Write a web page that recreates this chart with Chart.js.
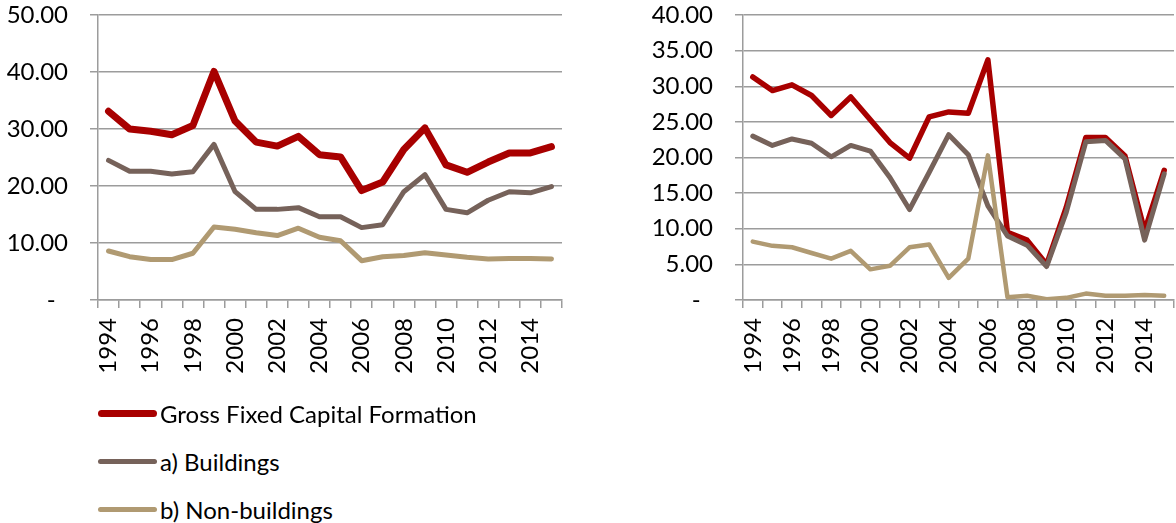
<!DOCTYPE html>
<html>
<head>
<meta charset="utf-8">
<script src="https://cdn.jsdelivr.net/npm/chart.js@4.4.1/dist/chart.umd.min.js"></script>
<style>
  body { margin: 0; background: #fff; }
  #wrap { position: relative; width: 1176px; height: 523px; overflow: hidden; font-family: Lato, sans-serif; }
  canvas { position: absolute; top: 0; }
  .legrow { position: absolute; left: 98px; height: 30px; display: flex; align-items: center; font-size: 24px; color: #000; }
  .legrow span.sw { display: inline-block; width: 59px; border-radius: 4px; margin-right: 3px; }
</style>
</head>
<body>
<div id="wrap">
  <canvas id="leftChart" width="580" height="400" style="left:0"></canvas>
  <canvas id="rightChart" width="580" height="400" style="left:596px"></canvas>
  <div id="legend"></div>
</div>
<script>
'use strict';

let years = ['1994', '1995', '1996', '1997', '1998', '1999', '2000', '2001', '2002', '2003', '2004',
    '2005', '2006', '2007', '2008', '2009', '2010', '2011', '2012', '2013', '2014', '2015'];

let seriesNames = ['Gross Fixed Capital Formation', 'a) Buildings', 'b) Non-buildings'];

// left panel
let leftGfcf = [33.1, 30.0, 29.6, 29.0, 30.6, 40.1, 31.4, 27.7, 27.0, 28.7, 25.5,
    25.1, 19.2, 20.7, 26.4, 30.2, 23.7, 22.4, 24.2, 25.8, 25.8, 26.9];
let leftBuildings = [24.5, 22.6, 22.6, 22.1, 22.5, 27.3, 19.0, 15.9, 15.9, 16.2, 14.6,
    14.6, 12.7, 13.2, 19.0, 22.0, 15.9, 15.3, 17.5, 19.0, 18.8, 19.9];
let leftNonBuildings = [8.6, 7.6, 7.1, 7.1, 8.2, 12.8, 12.4, 11.8, 11.3, 12.6, 11.0,
    10.4, 6.9, 7.6, 7.8, 8.3, 7.9, 7.5, 7.2, 7.3, 7.3, 7.2];
let leftTicks = [0, 10, 20, 30, 40, 50];

// right panel
let rightGfcf = [31.3, 29.4, 30.2, 28.7, 25.9, 28.5, 25.3, 22.1, 19.9, 25.7, 26.4,
    26.2, 33.7, 9.5, 8.4, 5.0, 13.0, 22.8, 22.8, 20.2, 9.7, 18.2];
let rightBuildings = [23.0, 21.7, 22.6, 22.0, 20.1, 21.7, 20.9, 17.2, 12.7, 17.9, 23.2,
    20.4, 13.2, 9.0, 7.7, 4.7, 12.3, 22.2, 22.4, 19.8, 8.4, 17.7];
let rightNonBuildings = [8.2, 7.6, 7.4, 6.6, 5.8, 6.9, 4.3, 4.8, 7.4, 7.8, 3.1,
    5.8, 20.3, 0.4, 0.6, 0.1, 0.3, 0.9, 0.6, 0.6, 0.7, 0.6];
let rightTicks = [0, 5, 10, 15, 20, 25, 30, 35, 40];

let colors = ['#A80000', '#76625A', '#B09A72'];
let gridColor = '#9C9C9C';
let fontFamily = 'Lato, sans-serif';

function noPadding(scale) {
    scale.paddingTop = 0;
    scale.paddingBottom = 0;
    scale.paddingLeft = 0;
    scale.paddingRight = 0;
}

function makeChart(id, values, widths, ticks, axisWidth, padRight) {
    let ctx = document.getElementById(id).getContext('2d');
    let datasets = [];
    for (let i = 0; i < values.length; i++) {
        datasets.push({
            label: seriesNames[i],
            data: values[i],
            borderColor: colors[i],
            backgroundColor: colors[i],
            borderWidth: widths[i],
            borderCapStyle: 'round',
            borderJoinStyle: 'round',
            pointRadius: 0,
            tension: 0,
            order: values.length - i
        });
    }
    let step = ticks[1] - ticks[0];
    return new Chart(ctx, {
        type: 'line',
        data: { labels: years, datasets: datasets },
        options: {
            responsive: false,
            animation: false,
            layout: { padding: { top: 15, right: padRight, left: 0, bottom: 0 } },
            plugins: { legend: { display: false }, tooltip: { enabled: false } },
            scales: {
                x: {
                    offset: true,
                    grid: { offset: true, drawOnChartArea: false, drawTicks: true, tickLength: 8, color: gridColor, lineWidth: 1.5 },
                    border: { display: true, color: gridColor, width: 1.5 },
                    ticks: {
                        autoSkip: false, maxRotation: 90, minRotation: 90, padding: 10,
                        color: '#000', font: { family: fontFamily, size: 24 },
                        callback: function (v, i) { return i % 2 === 0 ? years[i] : ''; }
                    },
                    afterFit: function (scale) { scale.height = 100; noPadding(scale); }
                },
                y: {
                    min: ticks[0],
                    max: ticks[ticks.length - 1],
                    grid: { drawTicks: true, tickLength: 8, color: gridColor, lineWidth: 1.5 },
                    border: { display: true, color: gridColor, width: 1.5 },
                    ticks: {
                        stepSize: step, padding: 22, color: '#000', font: { family: fontFamily, size: 24 },
                        callback: function (v) { return v === 0 ? '-  ' : v.toFixed(2); }
                    },
                    afterFit: function (scale) { scale.width = axisWidth; noPadding(scale); }
                }
            }
        }
    });
}

makeChart('leftChart', [leftGfcf, leftBuildings, leftNonBuildings], [7, 5, 5], leftTicks, 98, 18);
makeChart('rightChart', [rightGfcf, rightBuildings, rightNonBuildings], [5.5, 5, 4.5], rightTicks, 147, 2);

// legend under the left panel
let legendBox = document.getElementById('legend');
let legendTops = [398, 446, 494];
let swatchHeights = [7, 5, 5];
for (let i = 0; i < seriesNames.length; i++) {
    let row = document.createElement('div');
    row.className = 'legrow';
    row.style.top = legendTops[i] + 'px';
    let sw = document.createElement('span');
    sw.className = 'sw';
    sw.style.height = swatchHeights[i] + 'px';
    sw.style.background = colors[i];
    row.appendChild(sw);
    let txt = document.createElement('span');
    txt.textContent = seriesNames[i];
    row.appendChild(txt);
    legendBox.appendChild(row);
}
</script>
</body>
</html>
